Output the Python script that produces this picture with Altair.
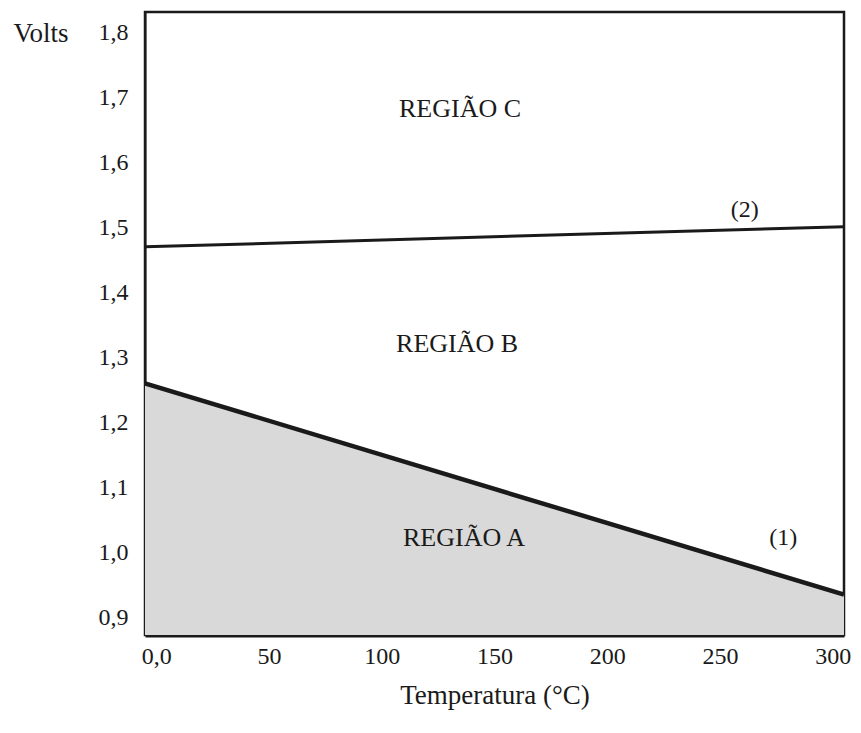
import altair as alt
import pandas as pd

# ---- data ----
temp_edges = [-5, 305]
line1_volts = [1.261, 0.936]   # curve (1), bounds region A
line2_volts = [1.471, 1.502]   # curve (2), between regions B and C

x_ticks = [0, 50, 100, 150, 200, 250, 300]
x_tick_labels = ["0,0", "50", "100", "150", "200", "250", "300"]
y_ticks = [0.9, 1.0, 1.1, 1.2, 1.3, 1.4, 1.5, 1.6, 1.7, 1.8]
y_tick_labels = ["0,9", "1,0", "1,1", "1,2", "1,3", "1,4", "1,5", "1,6", "1,7", "1,8"]

region_names = ["REGIÃO A", "REGIÃO B", "REGIÃO C"]
region_x = [136.5, 133.4, 134.7]
region_y = [1.023, 1.3215, 1.683]

curve_tags = ["(1)", "(2)"]
tag_x = [278, 261]
tag_y = [1.023, 1.528]

X_DOMAIN = [-5, 305]
Y_DOMAIN = [0.8738, 1.8323]
W, H = 699, 623
FONT = "Liberation Serif"
INK = "#1a1a1a"


def label_expr(values, labels):
    expr = "''"
    for v, l in reversed(list(zip(values, labels))):
        expr = f"abs(datum.value - {v}) < 1e-6 ? '{l}' : ({expr})"
    return expr


line1 = pd.DataFrame({"t": temp_edges, "v": line1_volts})
line2 = pd.DataFrame({"t": temp_edges, "v": line2_volts})
regions = pd.DataFrame({"name": region_names, "t": region_x, "v": region_y})
tags = pd.DataFrame({"name": curve_tags, "t": tag_x, "v": tag_y})

xscale = alt.Scale(domain=X_DOMAIN, nice=False, zero=False)
yscale = alt.Scale(domain=Y_DOMAIN, nice=False, zero=False)

xaxis = alt.Axis(
    values=x_ticks, labelExpr=label_expr(x_ticks, x_tick_labels),
    title="Temperatura (°C)", grid=False, ticks=False, tickSize=0,
    domain=True, domainWidth=4, domainColor=INK,
    labelFont=FONT, labelFontSize=24, labelColor=INK, labelPadding=9,
    labelBaseline="top",
    titleFont=FONT, titleFontSize=27, titleFontWeight="normal", titleColor=INK,
    titleY=60, titleBaseline="middle",
)
yaxis = alt.Axis(
    values=y_ticks, labelExpr=label_expr(y_ticks, y_tick_labels),
    title="Volts", grid=False, ticks=False, tickSize=0,
    domain=True, domainWidth=2, domainColor=INK,
    labelFont=FONT, labelFontSize=24, labelColor=INK, labelPadding=17,
    labelBaseline="middle",
    titleFont=FONT, titleFontSize=27, titleFontWeight="normal", titleColor=INK,
    titleAngle=0, titleAlign="left", titleBaseline="middle", titleX=-132, titleY=21,
)

area = alt.Chart(line1).mark_area(color="#d9d9d9", opacity=1, clip=True).encode(
    x=alt.X("t:Q", scale=xscale, axis=xaxis),
    y=alt.Y("v:Q", scale=yscale, axis=yaxis),
    y2=alt.value(H),
)
l1 = alt.Chart(line1).mark_line(color=INK, strokeWidth=4.5, clip=True).encode(
    x=alt.X("t:Q", scale=xscale), y=alt.Y("v:Q", scale=yscale)
)
l2 = alt.Chart(line2).mark_line(color=INK, strokeWidth=3, clip=True).encode(
    x=alt.X("t:Q", scale=xscale), y=alt.Y("v:Q", scale=yscale)
)
rtext = alt.Chart(regions).mark_text(
    font=FONT, fontSize=26, color=INK, align="center", baseline="middle"
).encode(x=alt.X("t:Q", scale=xscale), y=alt.Y("v:Q", scale=yscale), text="name:N")
ttext = alt.Chart(tags).mark_text(
    font=FONT, fontSize=24, color=INK, align="center", baseline="middle"
).encode(x=alt.X("t:Q", scale=xscale), y=alt.Y("v:Q", scale=yscale), text="name:N")

chart = (
    alt.layer(area, l1, l2, rtext, ttext)
    .properties(
        width=W, height=H,
        autosize=alt.AutoSizeParams(type="none"),
        padding={"left": 137, "top": 4, "right": 8, "bottom": 86},
        background="white",
    )
    .configure_view(stroke=INK, strokeWidth=2.5)
)

chart.save("out.html", embed_options={"renderer": "svg", "actions": False})
